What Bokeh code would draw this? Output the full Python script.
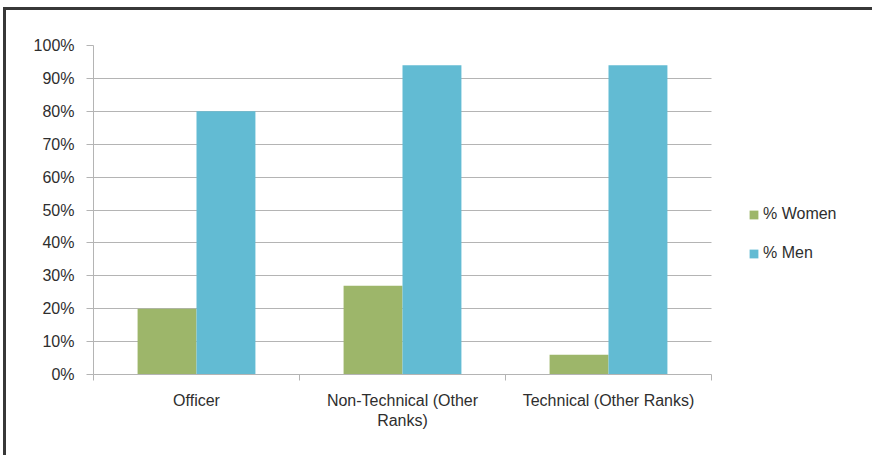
from bokeh.plotting import figure
from bokeh.models import (ColumnDataSource, Range1d, FixedTicker,
                          NumeralTickFormatter, Legend, LegendItem)
from bokeh.transform import dodge
from bokeh.embed import file_html
from bokeh.resources import INLINE

# ---- data ----
categories = ["Officer", "Non-Technical (Other\nRanks)", "Technical (Other Ranks)"]
women = [0.20, 0.27, 0.06]
men = [0.80, 0.94, 0.94]
y_ticks = [0.0, 0.1, 0.2, 0.3, 0.4, 0.5, 0.6, 0.7, 0.8, 0.9, 1.0]
series_labels = ["% Women", "% Men"]

GREEN = "#9DB66A"
BLUE = "#62BBD3"
GRID = "#B4B4B4"
TEXT = "#2E2E2E"
FONT = "Liberation Sans"

W, H = 869, 448
LEFT, TOP, BOTTOM = 87, 35, 84
FRAME_W = W - LEFT          # frame runs to the right edge (legend lives inside)
CAT_W = 618                 # pixel width of the category area
n = len(categories)
x_end = n * FRAME_W / CAT_W

centers = [i + 0.5 for i in range(n)]
source = ColumnDataSource(dict(x=centers, women=women, men=men))

p = figure(width=W, height=H,
           x_range=Range1d(0, x_end), y_range=Range1d(0, 1),
           output_backend="svg", toolbar_location=None,
           min_border_left=LEFT, min_border_right=0,
           min_border_top=TOP, min_border_bottom=BOTTOM,
           background_fill_color="white", border_fill_color="white",
           styles={"border-top": "3px solid #383838",
                   "border-left": "3px solid #383838",
                   "margin-top": "7px", "margin-left": "3px"})
p.outline_line_color = None

# horizontal gridlines limited to the category area
p.xgrid.grid_line_color = None
if "cross_bounds" in p.ygrid[0].properties():
    p.ygrid.ticker = FixedTicker(ticks=y_ticks)
    p.ygrid.grid_line_color = GRID
    p.ygrid.cross_bounds = (0, n)
else:
    p.ygrid.grid_line_color = None
    p.segment(x0=[0] * len(y_ticks), x1=[n] * len(y_ticks),
              y0=y_ticks, y1=y_ticks, line_color=GRID, line_width=1)

bw = 0.286
rw = p.vbar(x=dodge("x", -bw / 2, range=p.x_range), top="women", width=bw,
            source=source, fill_color=GREEN, line_color=None)
rm = p.vbar(x=dodge("x", bw / 2, range=p.x_range), top="men", width=bw,
            source=source, fill_color=BLUE, line_color=None)

# y axis
yax = p.yaxis[0]
yax.ticker = FixedTicker(ticks=y_ticks)
yax.formatter = NumeralTickFormatter(format="0%")
yax.axis_line_color = GRID
yax.major_tick_line_color = GRID
yax.major_tick_out = 7
yax.major_tick_in = 0
yax.minor_tick_line_color = None
yax.major_label_standoff = 12
yax.major_label_text_font = FONT
yax.major_label_text_font_size = "16px"
yax.major_label_text_color = TEXT

# x axis
xax = p.xaxis[0]
xax.bounds = (0, n)
xax.ticker = FixedTicker(ticks=centers, minor_ticks=list(range(n + 1)))
xax.major_label_overrides = {c: lab for c, lab in zip(centers, categories)}
xax.axis_line_color = GRID
xax.major_tick_line_color = None
xax.minor_tick_line_color = GRID
xax.minor_tick_out = 6
xax.minor_tick_in = 0
xax.major_tick_out = 0
xax.major_label_standoff = 11
xax.major_label_text_font = FONT
xax.major_label_text_font_size = "16px"
xax.major_label_text_color = TEXT

legend = Legend(items=[LegendItem(label=series_labels[0], renderers=[rw]),
                       LegendItem(label=series_labels[1], renderers=[rm])],
                location=(655, 111), orientation="vertical",
                glyph_width=11, glyph_height=11, label_height=20,
                spacing=19, label_standoff=4, padding=0, margin=0,
                border_line_color=None, background_fill_alpha=0,
                label_text_font=FONT, label_text_font_size="16px",
                label_text_color=TEXT)
p.add_layout(legend, "center")

open("out.html", "w").write(file_html(p, INLINE))
